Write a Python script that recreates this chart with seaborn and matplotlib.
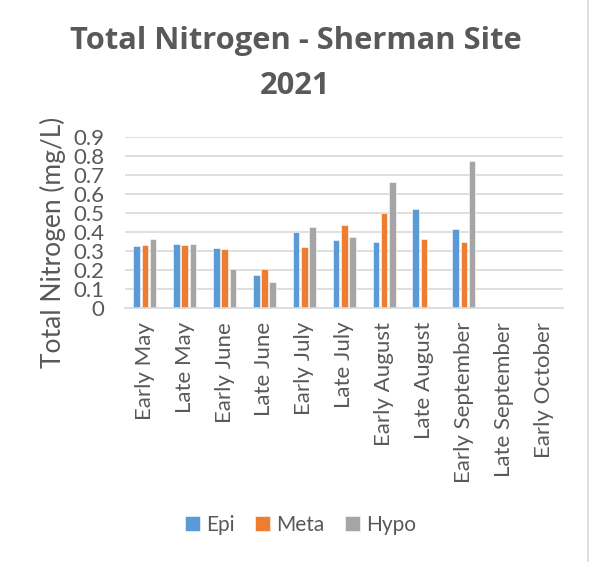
import numpy as np
import pandas as pd
import seaborn as sns
import matplotlib.pyplot as plt
from matplotlib.lines import Line2D

# sampling dates and Total N per layer (mg/L), NaN = not sampled
dates = ["Early May", "Late May", "Early June", "Late June", "Early July",
         "Late July", "Early August", "Late August", "Early September",
         "Late September", "Early October"]
epi = [0.326, 0.335, 0.314, 0.172, 0.398, 0.358, 0.346, 0.523, 0.414, np.nan, np.nan]
meta = [0.332, 0.332, 0.309, 0.204, 0.319, 0.439, 0.500, 0.361, 0.349, np.nan, np.nan]
hypo = [0.361, 0.335, 0.205, 0.135, 0.428, 0.372, 0.665, np.nan, 0.774, np.nan, np.nan]
layers = ["Epi", "Meta", "Hypo"]
colors = ["#5B9BD5", "#ED7D31", "#A5A5A5"]

df = pd.DataFrame({"date": dates, "Epi": epi, "Meta": meta, "Hypo": hypo})
df = df.melt(id_vars="date", var_name="layer", value_name="tn")

sns.set_style("white")
plt.rcParams['font.family'] = ['Lato', 'DejaVu Sans']
txt = "#595959"

fig = plt.figure(figsize=(5.95, 5.62), dpi=100)
ax = fig.add_axes([0.21, 0.452, 0.737, 0.304])

sns.barplot(data=df, x="date", y="tn", hue="layer", order=dates,
            hue_order=layers, palette=colors, width=0.62, gap=0.2,
            saturation=1, edgecolor="white", linewidth=0.4, ax=ax)

ax.set_ylim(0, 0.9)
ax.set_yticks(np.arange(0, 0.91, 0.1))
ax.set_yticklabels(["0"] + ["{:.1f}".format(v) for v in np.arange(0.1, 0.91, 0.1)])
ax.set_xlim(-0.5, len(dates) - 0.5)
ax.yaxis.grid(True, color="#D9D9D9", linewidth=1.2)
ax.set_axisbelow(True)
for s in ["left", "right", "top"]:
    ax.spines[s].set_visible(False)
ax.spines["bottom"].set_color("#D9D9D9")
ax.spines["bottom"].set_linewidth(1.2)
ax.tick_params(axis="both", length=0, labelsize=16, colors=txt)
ax.tick_params(axis="y", pad=15)
ax.tick_params(axis="x", pad=10)
plt.setp(ax.get_xticklabels(), rotation=90)

ax.set_xlabel("")
ax.set_ylabel("Total Nitrogen (mg/L)", fontsize=19, color=txt)
ax.yaxis.set_label_coords(-0.135, 0.386)

# title, two lines placed separately
fig.text(0.4966, 0.9128, "Total Nitrogen - Sherman Site", ha="center", va="baseline",
         fontsize=22.2, fontweight="bold", color=txt, family="Open Sans")
fig.text(0.4966, 0.8327, "2021", ha="center", va="baseline",
         fontsize=22.2, fontweight="bold", color=txt, family="Open Sans")

ax.legend(loc="center", bbox_to_anchor=(0.505, 0.066), bbox_transform=fig.transFigure,
          ncol=3, frameon=False, fontsize=15, labelcolor=txt,
          handlelength=0.7, handleheight=0.7, handletextpad=0.3, columnspacing=1.0)

fig.add_artist(Line2D([588 / 595, 588 / 595], [0, 1], color="#D9D9D9", lw=1.2))

plt.savefig("out.png", dpi=100)
plt.close()
